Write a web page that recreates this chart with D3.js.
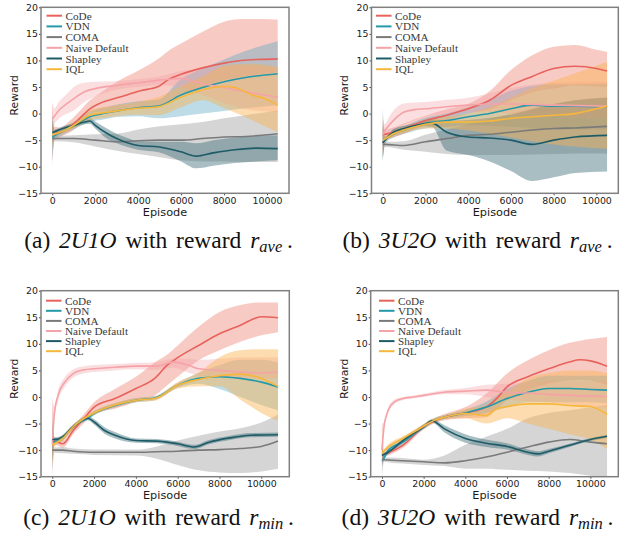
<!DOCTYPE html>
<html>
<head>
<meta charset="utf-8">
<script src="https://cdn.jsdelivr.net/npm/d3@7"></script>
<style>
  body { margin: 0; background: #fff; }
  svg { display: block; }
</style>
</head>
<body>
<svg id="chart" width="631" height="546"></svg>
<script>
// rows are [episode, mean, lower, upper]
const seriesNames = ["CoDe", "VDN", "COMA", "Naive Default", "Shapley", "IQL"];
const xTicks = [0, 2000, 4000, 6000, 8000, 10000];
const yTicks = [-15, -10, -5, 0, 5, 10, 15, 20];
const captionIds = ["(a)", "(b)", "(c)", "(d)"];
const captionEnvs = ["2U1O", "3U2O", "2U1O", "3U2O"];
const captionSubs = ["ave", "ave", "min", "min"];

// (a) 2U1O, r_ave
const a_CoDe = [[0,-4,-10,2.4],[100,-3.8,-5,-2.5],[400,-3.5,-4.3,-2.6],[800,-2.6,-3.6,-1.4],[1300,-0.8,-2,0.6],[1750,0.9,0,2.5],[2200,1.9,0.3,3.8],[3150,3.1,0.6,6.3],[4100,4.3,1.0,8.3],[4940,5.1,1.3,10.3],[5400,6.4,2.3,11.8],[6000,7.4,3.5,13.2],[7000,8.6,5.0,15.4],[8000,9.5,6.3,17.3],[8800,10.0,6.9,17.8],[9700,10.2,7.4,17.8],[10500,10.3,7.8,17.7]];
const a_VDN = [[0,-4.5,-9,0],[100,-4.2,-5,-3.4],[500,-3.3,-4,-2.6],[1000,-2.3,-3,-1.6],[1750,-0.6,-1.6,0.4],[2500,0.1,-1,1.2],[3150,0.6,-0.6,1.8],[4000,1.1,-0.5,2.3],[4940,1.4,-0.9,2.6],[6000,3.5,-0.5,6.5],[7000,4.9,0,8.5],[8000,6.0,0.5,10.2],[9000,6.8,1.0,11.8],[10500,7.5,1.5,13.6]];
const a_COMA = [[0,-4.8,-9,-2],[100,-4.7,-5.2,-4.2],[1000,-4.7,-5.4,-4.1],[2000,-5.0,-6.2,-3.9],[3000,-5.3,-7.0,-3.8],[4000,-5.1,-7.6,-3.0],[5000,-5.0,-8.2,-2.4],[6000,-5.0,-8.8,-2.0],[7000,-4.7,-9.0,-1.6],[8000,-4.4,-9.0,-0.9],[9000,-4.3,-9.1,-0.3],[10500,-3.8,-9.1,0.6]];
const a_Naive = [[0,-1,-4,2],[100,-0.5,-2,1],[300,0.6,-1,2.2],[700,1.9,0,3.8],[1000,2.8,0.6,5.0],[1500,4.1,2.2,5.8],[2000,4.7,3.2,6.0],[3000,5.3,4.5,6.1],[4000,5.8,5.0,6.5],[5000,6.3,5.4,7.0],[6000,6.6,5.0,8.0],[7000,5.6,3.5,8.5],[8000,4.9,2.0,9.0],[9000,4.1,0.8,9.0],[10500,3.1,0.3,8.5]];
const a_Shapley = [[0,-3.5,-6,-1],[100,-3.4,-3.8,-3.0],[500,-2.8,-3.2,-2.4],[1000,-2.2,-2.6,-1.8],[1500,-1.6,-2.0,-1.2],[1750,-1.4,-1.9,-0.9],[2000,-2.2,-2.8,-1.5],[2500,-3.6,-4.6,-2.7],[3000,-4.7,-5.6,-3.8],[3500,-5.5,-6.3,-4.6],[4000,-6.0,-6.8,-5.2],[5000,-6.3,-7.3,-5.3],[6000,-7.2,-9.0,-5.3],[6700,-8.0,-10.3,-5.6],[7500,-7.4,-9.8,-5.0],[8500,-6.8,-9.3,-4.5],[9500,-6.5,-9.0,-4.2],[10500,-6.6,-8.8,-4.1]];
const a_IQL = [[0,-4.0,-6.5,-1.5],[100,-3.9,-4.5,-3.3],[500,-3.3,-3.8,-2.8],[1000,-2.2,-2.8,-1.6],[1750,-0.3,-1.3,0.7],[2500,0.2,-0.8,1.3],[3150,0.6,-0.4,1.7],[4000,1.0,-0.2,2.2],[4940,1.3,-0.3,3.1],[6000,3.1,1.2,5.2],[7000,4.5,2.5,7.0],[8000,5.1,1.0,9.0],[8500,4.9,0.2,9.3],[9300,3.5,-1.2,9.4],[9900,2.8,-2.4,9.2],[10500,1.6,-3.5,8.8]];

// (b) 3U2O, r_ave
const b_CoDe = [[0,-4,-8,0],[100,-3.9,-4.8,-3.0],[500,-3.5,-4.5,-2.6],[1000,-2.8,-3.8,-1.8],[2000,-1.3,-2.2,-0.4],[3000,-0.3,-1.3,0.8],[4000,0.9,0.0,1.8],[5000,2.5,0.8,4.2],[6000,5.3,2.5,8.2],[7000,7.0,4.0,11.0],[8000,8.5,4.7,12.6],[9000,8.9,5.3,12.9],[10000,8.5,5.1,12.0],[10500,8.0,5.0,11.6]];
const b_VDN = [[0,-5.5,-9,1.2],[100,-5.0,-5.8,-4.2],[500,-3.8,-4.5,-3.1],[1000,-3.1,-3.8,-2.4],[2000,-1.8,-2.8,-0.8],[3000,-1.3,-2.5,0],[4000,-0.6,-2.2,1.2],[5000,0,-2.3,2.5],[6000,0.9,-2.5,4.3],[7000,1.6,-2.8,5.2],[8000,1.4,-3.0,5.5],[9000,1.4,-3.0,5.5],[10500,1.3,-3.0,5.6]];
const b_COMA = [[0,-5.8,-9,-3],[100,-5.8,-6.3,-5.3],[1000,-6.0,-6.8,-5.2],[2000,-5.3,-7.2,-4.0],[3000,-4.7,-7.6,-3.0],[4000,-4.1,-7.8,-2.0],[5000,-3.9,-7.8,-1.0],[6000,-3.5,-7.8,0],[7000,-3.1,-7.7,1.0],[8000,-2.8,-7.6,1.8],[9000,-2.7,-7.5,2.5],[10500,-2.4,-7.5,3.1]];
const b_Naive = [[0,-4,-7,-1],[100,-3.2,-4.5,-2],[300,-2.2,-3.8,-0.6],[600,-0.9,-2.8,1.0],[1000,0.3,-2.0,1.9],[1500,0.75,-1.2,2.1],[2000,0.9,-0.6,2.2],[3000,1.3,0,2.6],[4000,1.6,0.3,3.0],[5000,1.8,0.3,3.8],[6000,1.8,0,4.8],[8000,1.6,-0.5,5.8],[10500,1.4,-1.0,6.0]];
const b_Shapley = [[0,-5.5,-9,-2],[100,-5.0,-5.6,-4.4],[500,-3.5,-4.1,-2.9],[1000,-2.8,-3.3,-2.3],[2000,-1.9,-2.4,-1.4],[2300,-1.8,-2.5,-1.1],[3000,-3.5,-7.0,-1.3],[4000,-4.4,-7.8,-1.2],[5000,-4.6,-9.0,-0.8],[6000,-5.0,-10.8,-0.2],[7000,-5.8,-12.7,0.8],[8000,-5.0,-12.0,1.8],[9000,-4.4,-11.2,2.5],[10500,-4.1,-10.9,3.0]];
const b_IQL = [[0,-5,-8,-2],[100,-4.8,-5.4,-4.2],[500,-3.8,-4.4,-3.2],[1000,-3.1,-3.7,-2.5],[2000,-2.0,-2.8,-1.2],[3000,-1.6,-2.8,-0.6],[4000,-1.6,-3.2,0],[5000,-1.4,-3.8,1.2],[6000,-0.9,-4.5,3.0],[7000,-0.6,-5.2,4.8],[8000,-0.3,-5.8,6.2],[9000,0,-6.2,7.6],[10000,0.9,-6.5,9.0],[10500,1.4,-6.6,9.7]];

// (c) 2U1O, r_min
const c_CoDe = [[0,-8.5,-14.5,0],[100,-8.3,-9.0,-7.6],[500,-8.8,-9.5,-8.1],[1000,-6.3,-7.0,-5.6],[1500,-4.1,-5.0,-3.3],[2000,-1.9,-3.0,-1.0],[3000,-0.3,-2.2,1.5],[4000,1.6,-0.9,3.8],[4900,3.5,0.3,6.5],[5500,6.0,2.2,8.0],[6000,7.4,3.8,9.7],[7000,9.7,6.9,13.2],[8000,11.9,8.8,16.0],[9000,13.5,10.4,17.3],[10000,15.1,11.6,17.8],[10800,14.9,12.2,17.8]];
const c_VDN = [[0,-8.5,-13,-4],[100,-8.4,-9.0,-7.8],[500,-7.8,-8.3,-7.3],[1000,-5.6,-6.0,-5.2],[1750,-3.8,-4.2,-3.4],[2000,-3.1,-3.5,-2.7],[3000,-1.6,-2.0,-1.2],[4000,-0.6,-1.0,-0.2],[4900,-0.2,-0.6,0.2],[6000,2.2,1.7,2.7],[7000,3.5,2.5,4.5],[8000,3.8,1.5,6.0],[9000,3.5,0,7.0],[10000,2.8,-1.5,7.0],[10800,1.9,-2.5,6.5]];
const c_COMA = [[0,-10,-15,-6],[100,-10.0,-10.5,-9.5],[500,-10.0,-10.6,-9.4],[1000,-10.2,-10.7,-9.7],[2000,-10.4,-10.9,-9.9],[4000,-10.4,-11.0,-9.9],[5000,-10.3,-11.6,-9.3],[6000,-10.2,-12.8,-8.2],[7000,-10.0,-13.8,-7.3],[8000,-9.9,-14.2,-6.5],[9000,-9.7,-14.3,-5.9],[10000,-9.3,-14.0,-4.8],[10800,-8.3,-13.5,-3.3]];
const c_Naive = [[0,-9,-14,0],[100,-3.1,-4.5,-1.8],[300,0.6,-0.5,1.6],[600,2.8,1.9,3.7],[1000,4.4,3.6,5.2],[1500,5.1,4.4,5.8],[2000,5.3,4.7,6.0],[3000,5.6,5.0,6.2],[4000,5.8,5.2,6.4],[5000,5.8,5.1,6.6],[5800,6.6,5.5,7.2],[6500,6.0,4.6,7.2],[7000,5.3,4.0,7.0],[8000,5.0,3.8,7.2],[9000,4.7,3.6,7.5],[10000,4.5,3.5,7.5],[10800,4.7,3.5,7.5]];
const c_Shapley = [[0,-8,-12,-5],[100,-8.0,-8.4,-7.6],[500,-7.5,-7.9,-7.1],[1000,-5.6,-6.0,-5.2],[1700,-4.0,-4.4,-3.6],[2000,-4.7,-5.2,-4.2],[2500,-6.3,-6.9,-5.7],[3000,-7.2,-7.8,-6.6],[4000,-8.2,-8.6,-7.8],[5000,-8.3,-8.7,-7.9],[6000,-8.8,-9.2,-8.4],[6800,-9.4,-9.8,-9.0],[7500,-8.5,-8.9,-8.1],[8500,-7.7,-8.1,-7.3],[9500,-7.2,-7.6,-6.8],[10800,-7.1,-7.5,-6.7]];
const c_IQL = [[0,-9,-13,-5],[100,-8.8,-9.4,-8.2],[500,-7.8,-8.3,-7.3],[1000,-5.6,-6.0,-5.2],[2000,-3.0,-3.4,-2.6],[3000,-1.5,-1.9,-1.1],[4000,-0.6,-1.0,-0.2],[4900,-0.3,-0.7,0.1],[6000,2.2,1.6,2.8],[7000,3.3,2.0,4.6],[8000,4.0,2.0,7.5],[9000,4.3,-0.5,8.8],[10000,3.5,-3.0,9.0],[10800,2.0,-4.5,9.0]];

// (d) 3U2O, r_min
const d_CoDe = [[0,-11,-13,-9],[100,-10.8,-11.3,-10.3],[300,-10.5,-11.0,-10.0],[1000,-9.1,-9.6,-8.6],[2000,-5.6,-6.1,-5.1],[2500,-4.5,-5.0,-4.0],[3000,-3.8,-4.4,-3.2],[4000,-3.0,-4.0,-1.9],[5000,-1.9,-3.8,0.6],[5500,-0.3,-2.3,2.5],[6000,1.9,-0.6,4.4],[7000,3.8,1.3,6.9],[8000,5.3,2.5,8.8],[9000,6.6,3.1,10.2],[9500,7.0,3.2,10.6],[10000,6.8,3.1,10.9],[10800,5.8,2.2,11.3]];
const d_VDN = [[0,-12,-13,-10],[100,-11.5,-12,-11],[300,-10.0,-10.5,-9.5],[1000,-8.5,-9.0,-8.0],[2000,-5.6,-6.0,-5.2],[2500,-4.4,-4.8,-4.0],[3000,-3.8,-4.2,-3.4],[4000,-3.0,-3.6,-2.4],[5000,-1.9,-3.0,-0.9],[6000,-0.3,-2.0,1.5],[7000,0.9,-1.0,3.0],[8000,1.6,-1.0,4.0],[9000,1.6,-1.0,4.0],[10000,1.4,-1.0,4.0],[10800,1.3,-1.2,4.0]];
const d_COMA = [[0,-11.8,-15,-8],[100,-11.8,-12.2,-11.4],[500,-11.9,-12.4,-11.4],[1000,-12.0,-12.5,-11.5],[2000,-12.2,-12.8,-11.8],[3000,-12.4,-13.0,-11.0],[4000,-12.0,-13.5,-9.0],[5000,-11.3,-13.5,-7.5],[6000,-10.4,-13.7,-6.0],[7000,-9.4,-13.9,-4.0],[8000,-8.5,-14.0,-3.0],[9000,-8.0,-14.3,-2.5],[10000,-8.5,-14.8,-2.0],[10800,-8.8,-15.0,-1.5]];
const d_Naive = [[0,-10,-15,-5],[100,-5.6,-6.5,-4.7],[300,-2.5,-3.1,-1.9],[600,-0.9,-1.3,-0.5],[1000,-0.3,-0.6,0],[1500,0,-0.3,0.3],[2000,0.3,0,0.6],[3000,0.9,0.5,1.3],[4000,1.1,0.5,1.7],[5000,1.3,0,2.3],[6000,0.9,-0.5,2.5],[7000,0.75,-0.8,2.8],[8000,0.5,-1.0,3.0],[9000,0.3,-1.5,3.0],[10800,0.1,-2.0,3.0]];
const d_Shapley = [[0,-11,-12.5,-9.5],[100,-10.8,-11.2,-10.4],[300,-10.4,-10.8,-10.0],[1000,-8.2,-8.6,-7.8],[2000,-5.6,-6.0,-5.2],[2400,-4.5,-4.8,-4.2],[3000,-6.0,-6.7,-5.3],[4000,-7.8,-8.6,-7.0],[5000,-8.7,-9.4,-8.0],[6000,-9.3,-9.9,-8.7],[7000,-10.4,-10.9,-9.9],[7500,-10.7,-11.2,-10.2],[8000,-10.2,-10.6,-9.8],[9000,-9.1,-9.4,-8.8],[10000,-8.0,-8.3,-7.7],[10800,-7.4,-7.7,-7.1]];
const d_IQL = [[0,-10.5,-12,-5],[100,-10.2,-10.7,-9.7],[300,-9.4,-9.9,-8.9],[1000,-7.8,-8.2,-7.4],[2000,-5.5,-5.9,-5.1],[2500,-4.4,-4.8,-4.0],[3000,-3.8,-4.2,-3.4],[4000,-3.1,-4.0,-2.2],[5000,-3.5,-5.0,-1.5],[5500,-2.2,-4.5,0],[6000,-1.8,-4.0,1.0],[7000,-1.3,-5.0,3.5],[8000,-1.3,-6.0,4.5],[9000,-1.6,-7.0,5.0],[10000,-1.8,-8.0,5.0],[10800,-3.3,-9.8,4.5]];

// styling
const lineColors = ["#e8625c", "#2499a9", "#7a7a7a", "#f5a3a8", "#1d5c67", "#f6b73c"];
const bandColors = ["#f08a7c", "#5aa8c2", "#a2a2a2", "#f4a0a5", "#3d6e7a", "#fbb24f"];
const bandOpacity = [0.45, 0.4, 0.45, 0.35, 0.45, 0.45];

const panels = [
  { data: [a_CoDe, a_VDN, a_COMA, a_Naive, a_Shapley, a_IQL], x0: 41, x1: 289, y0: 7.3, y1: 193.3, xMin: -525, xMax: 11025, labX: 14, leg: [46.5, 15.7, 10.7], capX: 158.5 },
  { data: [b_CoDe, b_VDN, b_COMA, b_Naive, b_Shapley, b_IQL], x0: 371.5, x1: 618.3, y0: 7.3, y1: 193.3, xMin: -525, xMax: 11025, labX: 344, leg: [376, 15.7, 10.7], capX: 477.5 },
  { data: [c_CoDe, c_VDN, c_COMA, c_Naive, c_Shapley, c_IQL], x0: 41, x1: 289.3, y0: 290.7, y1: 476.7, xMin: -540, xMax: 11340, labX: 14, leg: [46, 300.7, 10.1], capX: 158.5 },
  { data: [d_CoDe, d_VDN, d_COMA, d_Naive, d_Shapley, d_IQL], x0: 370.7, x1: 618.3, y0: 290.7, y1: 476.7, xMin: -540, xMax: 11340, labX: 344, leg: [379, 300.7, 10.1], capX: 477.5 }
];
const captionY = [248, 248, 525, 525];

const svg = d3.select("#chart");
svg.append("rect").attr("width", 631).attr("height", 546).attr("fill", "#fff");

panels.forEach((p, pi) => {
  const x = d3.scaleLinear().domain([p.xMin, p.xMax]).range([p.x0, p.x1]);
  const y = d3.scaleLinear().domain([-15, 20]).range([p.y1, p.y0]);
  const g = svg.append("g");

  const clipId = "clip" + pi;
  g.append("clipPath").attr("id", clipId)
    .append("rect").attr("x", p.x0).attr("y", p.y0)
    .attr("width", p.x1 - p.x0).attr("height", p.y1 - p.y0);

  const plot = g.append("g").attr("clip-path", `url(#${clipId})`);

  const area = d3.area()
    .x(d => x(d[0])).y0(d => y(d[2])).y1(d => y(d[3]))
    .curve(d3.curveMonotoneX);
  const line = d3.line()
    .x(d => x(d[0])).y(d => y(d[1]))
    .curve(d3.curveMonotoneX);

  p.data.forEach((rows, si) => {
    plot.append("path").attr("d", area(rows))
      .attr("fill", bandColors[si]).attr("fill-opacity", bandOpacity[si]);
  });
  p.data.forEach((rows, si) => {
    plot.append("path").attr("d", line(rows))
      .attr("fill", "none").attr("stroke", lineColors[si])
      .attr("stroke-width", 1.6).attr("stroke-linejoin", "round");
  });

  // axes
  const xAxis = d3.axisBottom(x).tickValues(xTicks).tickSize(2).tickPadding(2).tickFormat(d3.format("d"));
  const yAxis = d3.axisLeft(y).tickValues(yTicks).tickSize(2).tickPadding(1)
    .tickFormat(d => d < 0 ? "\u2212" + Math.abs(d) : String(d));

  const gx = g.append("g").attr("transform", `translate(0,${p.y1})`).call(xAxis);
  const gy = g.append("g").attr("transform", `translate(${p.x0},0)`).call(yAxis);
  [gx, gy].forEach(a => {
    a.select(".domain").remove();
    a.selectAll("line").attr("stroke", "#444");
    a.selectAll("text").attr("fill", "#1a1a1a")
      .style("font-family", "'DejaVu Sans', sans-serif").style("font-size", "9.4px");
  });

  g.append("rect").attr("x", p.x0).attr("y", p.y0)
    .attr("width", p.x1 - p.x0).attr("height", p.y1 - p.y0)
    .attr("fill", "none").attr("stroke", "#808080").attr("stroke-width", 1.5);

  g.append("text")
    .attr("x", (p.x0 + p.x1) / 2).attr("y", p.y1 + 19)
    .attr("text-anchor", "middle").attr("dominant-baseline", "central")
    .style("font-family", "'DejaVu Sans', sans-serif").style("font-size", "11.3px")
    .attr("fill", "#1a1a1a").text("Episode");

  const cy = (p.y0 + p.y1) / 2 - 5;
  g.append("text")
    .attr("transform", `translate(${p.labX},${cy}) rotate(-90)`)
    .attr("text-anchor", "middle").attr("dominant-baseline", "central")
    .style("font-family", "'DejaVu Sans', sans-serif").style("font-size", "10.8px")
    .attr("fill", "#1a1a1a").text("Reward");

  // legend
  const [lx, ly, step] = p.leg;
  seriesNames.forEach((name, si) => {
    const yy = ly + si * step;
    g.append("line").attr("x1", lx).attr("x2", lx + 15.5).attr("y1", yy).attr("y2", yy)
      .attr("stroke", lineColors[si]).attr("stroke-width", 2);
    g.append("text").attr("x", lx + 19).attr("y", yy)
      .attr("dominant-baseline", "central")
      .style("font-family", "'Liberation Serif', 'Times New Roman', serif").style("font-size", "11.2px")
      .attr("fill", "#3a3a3a").text(name);
  });

  // caption
  const cap = svg.append("text").attr("x", p.capX).attr("y", captionY[pi])
    .attr("text-anchor", "middle")
    .style("font-family", "'Liberation Serif', 'Times New Roman', serif").style("font-size", "23.5px")
    .style("word-spacing", "3px")
    .attr("fill", "#111");
  cap.append("tspan").text(captionIds[pi] + " ");
  cap.append("tspan").style("font-style", "italic").text(captionEnvs[pi]);
  cap.append("tspan").text(" with reward ");
  cap.append("tspan").style("font-style", "italic").text("r");
  cap.append("tspan").style("font-style", "italic").style("font-size", "16.5px").attr("dy", 4).text(captionSubs[pi]);
  cap.append("tspan").attr("dy", -4).text("\u2009.");
});
</script>
</body>
</html>
